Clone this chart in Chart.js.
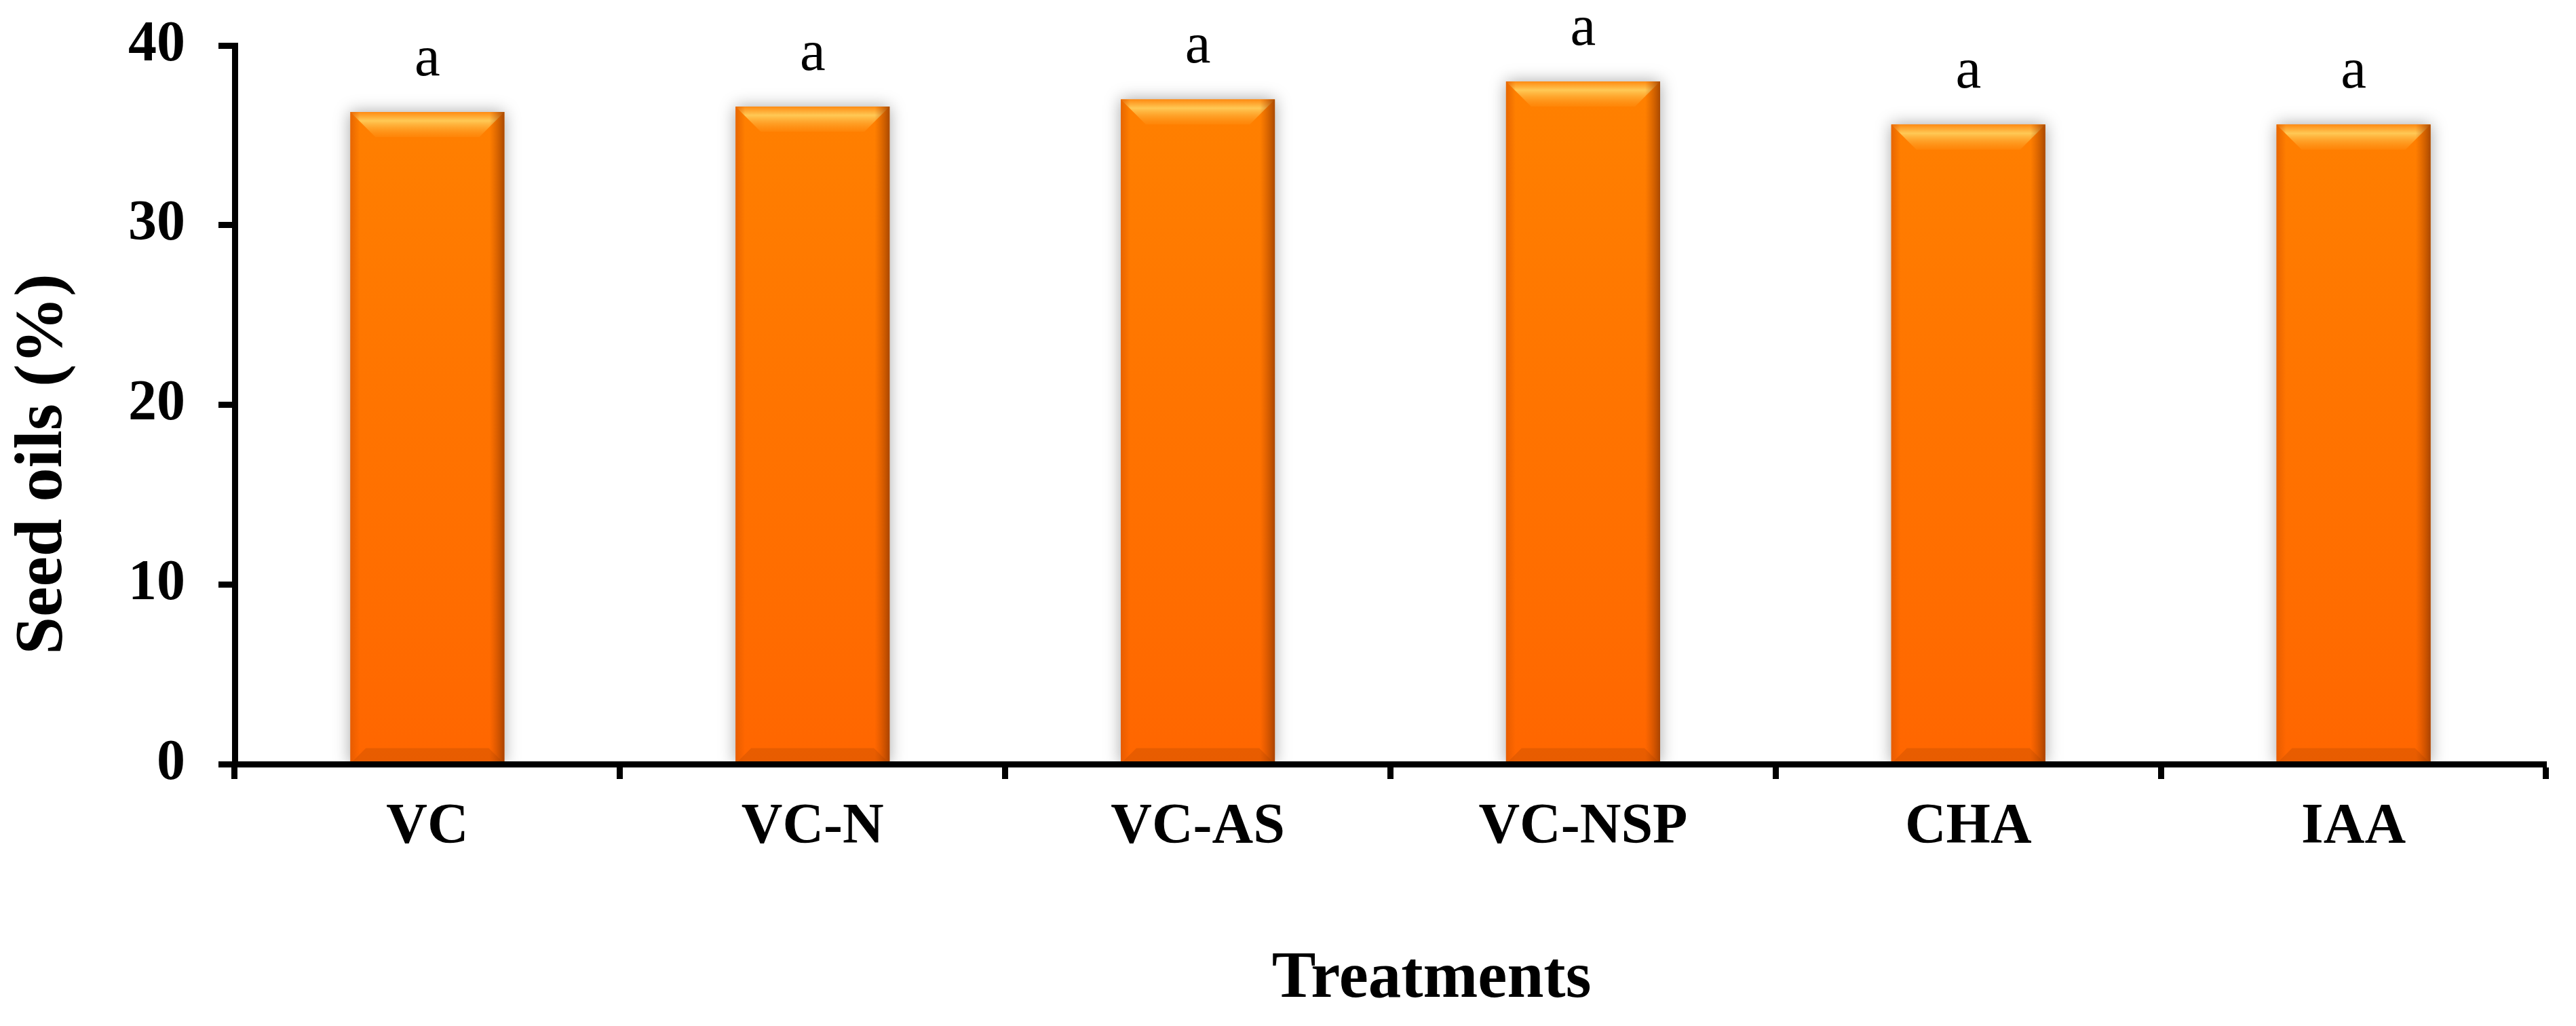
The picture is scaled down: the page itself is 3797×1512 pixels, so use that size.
<!DOCTYPE html>
<html>
<head>
<meta charset="utf-8">
<script src="https://cdn.jsdelivr.net/npm/chart.js@4.4.1/dist/chart.umd.min.js"></script>
<style>
  html, body { margin: 0; padding: 0; background: #fff; }
  canvas { display: block; }
</style>
</head>
<body>
<canvas id="oilChart" width="3797" height="1512"></canvas>
<script>
// Data
const treatments = ['VC', 'VC-N', 'VC-AS', 'VC-NSP', 'CHA', 'IAA'];
const seedOils = [36.3, 36.6, 37.0, 38.0, 35.6, 35.6];
const letters = ['a', 'a', 'a', 'a', 'a', 'a'];
const yTicks = [0, 10, 20, 30, 40];

const serif = "'Liberation Serif', 'Times New Roman', serif";

// Vertical orange fill for the bar faces
function barFill(context) {
    const area = context.chart.chartArea;
    if (!area) return '#ff7a00';
    const g = context.chart.ctx.createLinearGradient(0, area.top, 0, area.bottom);
    g.addColorStop(0, '#ff8200');
    g.addColorStop(1, '#ff6600');
    return g;
}

// Soft shadow behind the bars, bevel highlights and the letters on top
const bevelPlugin = {
    id: 'bevel',
    beforeDatasetsDraw(chart) {
        const ctx = chart.ctx;
        ctx.save();
        ctx.shadowColor = 'rgba(0, 0, 0, 0.35)';
        ctx.shadowBlur = 22;
        ctx.shadowOffsetX = 0;
        ctx.shadowOffsetY = 0;
    },
    afterDatasetsDraw(chart) {
        const ctx = chart.ctx;
        ctx.restore();
        const meta = chart.getDatasetMeta(0);
        meta.data.forEach((bar, i) => {
            const p = bar.getProps(['x', 'y', 'base', 'width'], true);
            const left = p.x - p.width / 2;
            const right = p.x + p.width / 2;
            const tb = 37, bb = 23;

            ctx.save();
            // top bevel
            let g = ctx.createLinearGradient(0, p.y, 0, p.y + tb);
            g.addColorStop(0, 'rgba(255, 140, 20, 0.9)');
            g.addColorStop(0.35, 'rgba(255, 205, 90, 0.95)');
            g.addColorStop(1, 'rgba(255, 160, 40, 0.2)');
            ctx.fillStyle = g;
            ctx.beginPath();
            ctx.moveTo(left, p.y);
            ctx.lineTo(right, p.y);
            ctx.lineTo(right - tb, p.y + tb);
            ctx.lineTo(left + tb, p.y + tb);
            ctx.closePath();
            ctx.fill();

            // bottom bevel
            ctx.fillStyle = 'rgba(190, 75, 0, 0.35)';
            ctx.beginPath();
            ctx.moveTo(left, p.base);
            ctx.lineTo(right, p.base);
            ctx.lineTo(right - bb, p.base - bb);
            ctx.lineTo(left + bb, p.base - bb);
            ctx.closePath();
            ctx.fill();

            // side shading
            g = ctx.createLinearGradient(left, 0, left + 14, 0);
            g.addColorStop(0, 'rgba(215, 85, 0, 0.6)');
            g.addColorStop(1, 'rgba(215, 85, 0, 0)');
            ctx.fillStyle = g;
            ctx.fillRect(left, p.y, 14, p.base - p.y);
            g = ctx.createLinearGradient(right, 0, right - 22, 0);
            g.addColorStop(0, 'rgba(140, 55, 0, 0.75)');
            g.addColorStop(1, 'rgba(180, 70, 0, 0)');
            ctx.fillStyle = g;
            ctx.fillRect(right - 22, p.y, 22, p.base - p.y);

            // significance letter
            ctx.fillStyle = '#000';
            ctx.font = '85px ' + serif;
            ctx.textAlign = 'center';
            ctx.textBaseline = 'alphabetic';
            ctx.fillText(letters[i], p.x, p.y - 54);
            ctx.restore();
        });
    }
};

const config = {
    type: 'bar',
    data: {
        labels: treatments,
        datasets: [{
            label: 'Seed oils (%)',
            data: seedOils,
            backgroundColor: barFill,
            borderWidth: 0,
            barPercentage: 0.4,
            categoryPercentage: 1.0
        }]
    },
    options: {
        responsive: false,
        devicePixelRatio: 1,
        animation: false,
        layout: { padding: { top: 67, right: 44, left: 0, bottom: 0 } },
        plugins: {
            legend: { display: false },
            tooltip: { enabled: false }
        },
        scales: {
            x: {
                afterFit(scale) { scale.height = 386; },
                border: { display: true, color: '#000', width: 9, z: 1 },
                grid: {
                    offset: true,
                    drawOnChartArea: false,
                    drawTicks: true,
                    tickLength: 22,
                    tickWidth: 9,
                    tickColor: '#000'
                },
                ticks: {
                    color: '#000',
                    padding: 22,
                    font: { family: serif, size: 84, weight: 'bold' }
                },
                title: {
                    display: true,
                    text: '\u00a0\u00a0\u00a0\u00a0\u00a0Treatments',
                    color: '#000',
                    padding: { top: 0, bottom: 10 },
                    font: { family: serif, size: 97, weight: 'bold', lineHeight: 1.2 }
                }
            },
            y: {
                min: yTicks[0],
                max: yTicks[yTicks.length - 1],
                afterFit(scale) { scale.width = 346; },
                afterBuildTicks(scale) { scale.ticks = yTicks.map(v => ({ value: v })); },
                border: { display: true, color: '#000', width: 9 },
                grid: {
                    drawOnChartArea: false,
                    drawTicks: true,
                    tickLength: 24,
                    tickWidth: 9,
                    tickColor: '#000'
                },
                ticks: {
                    color: '#000',
                    padding: 49,
                    // small line height keeps the top label from pushing the plot down
                    font: { family: serif, size: 84, weight: 'bold', lineHeight: 0.4 }
                },
                title: {
                    display: true,
                    text: 'Seed oils (%)\u00a0\u00a0\u00a0\u00a0\u00a0\u00a0\u00a0',
                    color: '#000',
                    padding: { top: 4, bottom: 0 },
                    font: { family: serif, size: 100, weight: 'bold', lineHeight: 1.2 }
                }
            }
        }
    },
    plugins: [bevelPlugin]
};

const ctx = document.getElementById('oilChart').getContext('2d');
const oilChart = new Chart(ctx, config);
</script>
</body>
</html>
